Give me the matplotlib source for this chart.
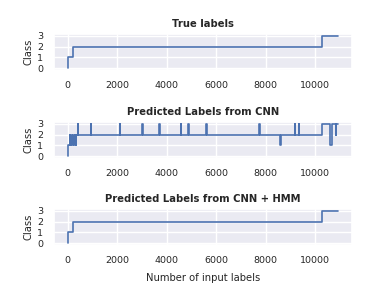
import matplotlib
matplotlib.use("Agg")
import matplotlib.pyplot as plt
import seaborn as sns

sns.set_theme(style="darkgrid")

# change points (x) and class level from that point on
true_x = [0, 20, 240, 10270, 10930]
true_y = [0, 1, 2, 3, 3]

cnn_x = [0, 20, 80, 110, 150, 180, 220, 250, 290, 330, 360,
         410, 435, 930, 955, 2100, 2125, 3000, 3025, 3700, 3725,
         4560, 4585, 4860, 4885, 5590, 5615, 7730, 7755, 8570, 8595,
         9160, 9185, 9320, 9345, 10270, 10590, 10650, 10820, 10850, 10930]
cnn_y = [0, 1, 2, 1, 2, 1, 2, 1, 2, 1, 2,
         3, 2, 3, 2, 3, 2, 3, 2, 3, 2,
         3, 2, 3, 2, 3, 2, 3, 2, 1, 2,
         3, 2, 3, 2, 3, 1, 3, 2, 3, 3]

hmm_x = [0, 20, 240, 10270, 10930]
hmm_y = [0, 1, 2, 3, 3]

titles = ["True labels", "Predicted Labels from CNN", "Predicted Labels from CNN + HMM"]
series = [(true_x, true_y), (cnn_x, cnn_y), (hmm_x, hmm_y)]

fig = plt.figure(figsize=(3.9, 2.93), dpi=100)
bottoms = [1 - 70/293, 1 - 158/293, 1 - 245/293]
for i in range(3):
    ax = fig.add_axes([54/390, bottoms[i], 298/390, 36/293])
    x, y = series[i]
    ax.plot(x, y, drawstyle="steps-post", color="#4c72b0", lw=1.2)
    ax.set_yticks([0, 1, 2, 3])
    ax.set_xticks([0, 2000, 4000, 6000, 8000, 10000])
    ax.tick_params(labelsize=6.8, pad=2)
    ax.set_ylabel("Class", fontsize=7.2, labelpad=2)
    ax.set_title(titles[i], fontsize=7.2, fontweight="bold", pad=5)
    if i == 2:
        ax.set_xlabel("Number of input labels", fontsize=7.2, labelpad=6)

plt.savefig("out.png", dpi=100)
